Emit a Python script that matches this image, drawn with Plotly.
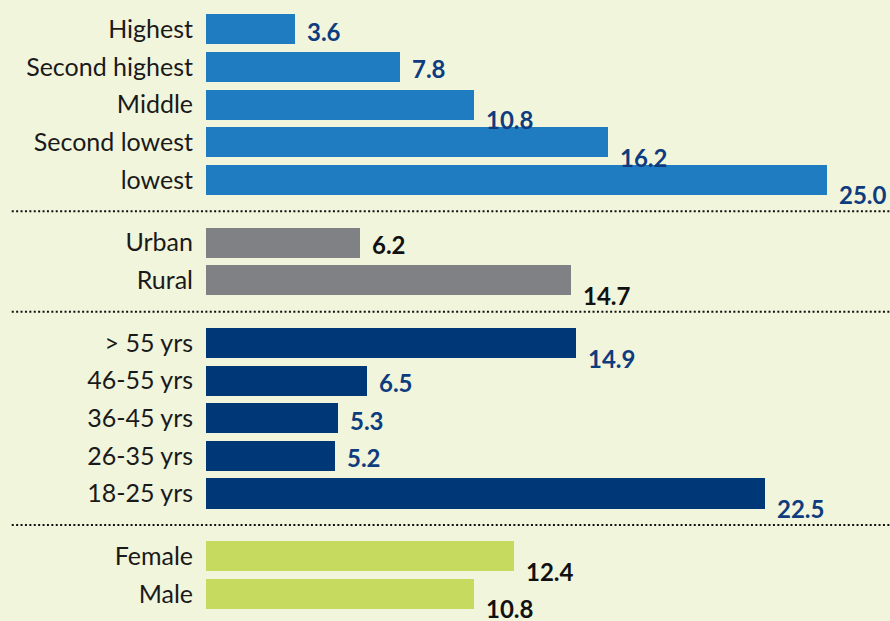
import plotly.graph_objects as go

# ---- data ----
income_cats = ["Highest", "Second highest", "Middle", "Second lowest", "lowest"]
income_vals = [3.6, 7.8, 10.8, 16.2, 25.0]
area_cats = ["Urban", "Rural"]
area_vals = [6.2, 14.7]
age_cats = ["> 55 yrs", "46-55 yrs", "36-45 yrs", "26-35 yrs", "18-25 yrs"]
age_vals = [14.9, 6.5, 5.3, 5.2, 22.5]
sex_cats = ["Female", "Male"]
sex_vals = [12.4, 10.8]

# ---- styling ----
FONT = "Source Sans Pro, Lato, Noto Sans, sans-serif"
BG = "#f1f5dc"
groups = [
    dict(cats=income_cats, vals=income_vals, color="#1f7cc1", lab="#0e3c7e",
         low=[False, False, True, True, True]),
    dict(cats=area_cats, vals=area_vals, color="#808185", lab="#111111",
         low=[False, True]),
    dict(cats=age_cats, vals=age_vals, color="#003777", lab="#0e3c7e",
         low=[True, False, False, False, True]),
    dict(cats=sex_cats, vals=sex_vals, color="#c5da5e", lab="#111111",
         low=[True, True]),
]
GAP = 0.67  # extra spacing between groups (in row units)

fig = go.Figure()
tickvals, ticktext = [], []
annotations, shapes = [], []
row = 0
group_edges = []
for gi, g in enumerate(groups):
    pos = [row + i + gi * GAP for i in range(len(g["cats"]))]
    row += len(g["cats"])
    group_edges.append((pos[0], pos[-1]))
    fig.add_trace(go.Bar(
        x=g["vals"], y=pos, orientation="h", width=0.8,
        marker=dict(color=g["color"], line=dict(width=0)),
        hoverinfo="skip", showlegend=False,
    ))
    tickvals += pos
    ticktext += g["cats"]
    for v, p, low in zip(g["vals"], pos, g["low"]):
        annotations.append(dict(
            x=v, y=p, xref="x", yref="y", text=f"<b>{v:.1f}</b>",
            showarrow=False, xanchor="left", yanchor="middle",
            xshift=10, yshift=-15 if low else -2,
            font=dict(family=FONT, size=24, color=g["lab"]),
        ))

for (a0, a1), (b0, b1) in zip(group_edges[:-1], group_edges[1:]):
    ymid = (a1 + b0) / 2
    shapes.append(dict(
        type="line", xref="paper", yref="y", x0=-0.284, x1=1.0, y0=ymid, y1=ymid,
        line=dict(color="#111111", width=2, dash="2px,2.4px"),
    ))

fig.update_layout(
    width=890, height=621,
    margin=dict(l=206, r=0, t=0, b=0),
    paper_bgcolor=BG, plot_bgcolor=BG,
    bargap=0,
    xaxis=dict(range=[0, 27.54], visible=False, fixedrange=True),
    yaxis=dict(range=[15.73, -0.78], tickvals=tickvals, ticktext=ticktext,
               ticks="", showgrid=False, zeroline=False, showline=False,
               ticklabelstandoff=12,
               tickfont=dict(family=FONT, size=25, color="#1a1a1a")),
    annotations=annotations,
    shapes=shapes,
)

fig.write_html(
    "out.html",
    config={"displayModeBar": False},
    post_script="document.body.style.margin='0';document.body.style.overflow='hidden';",
)
